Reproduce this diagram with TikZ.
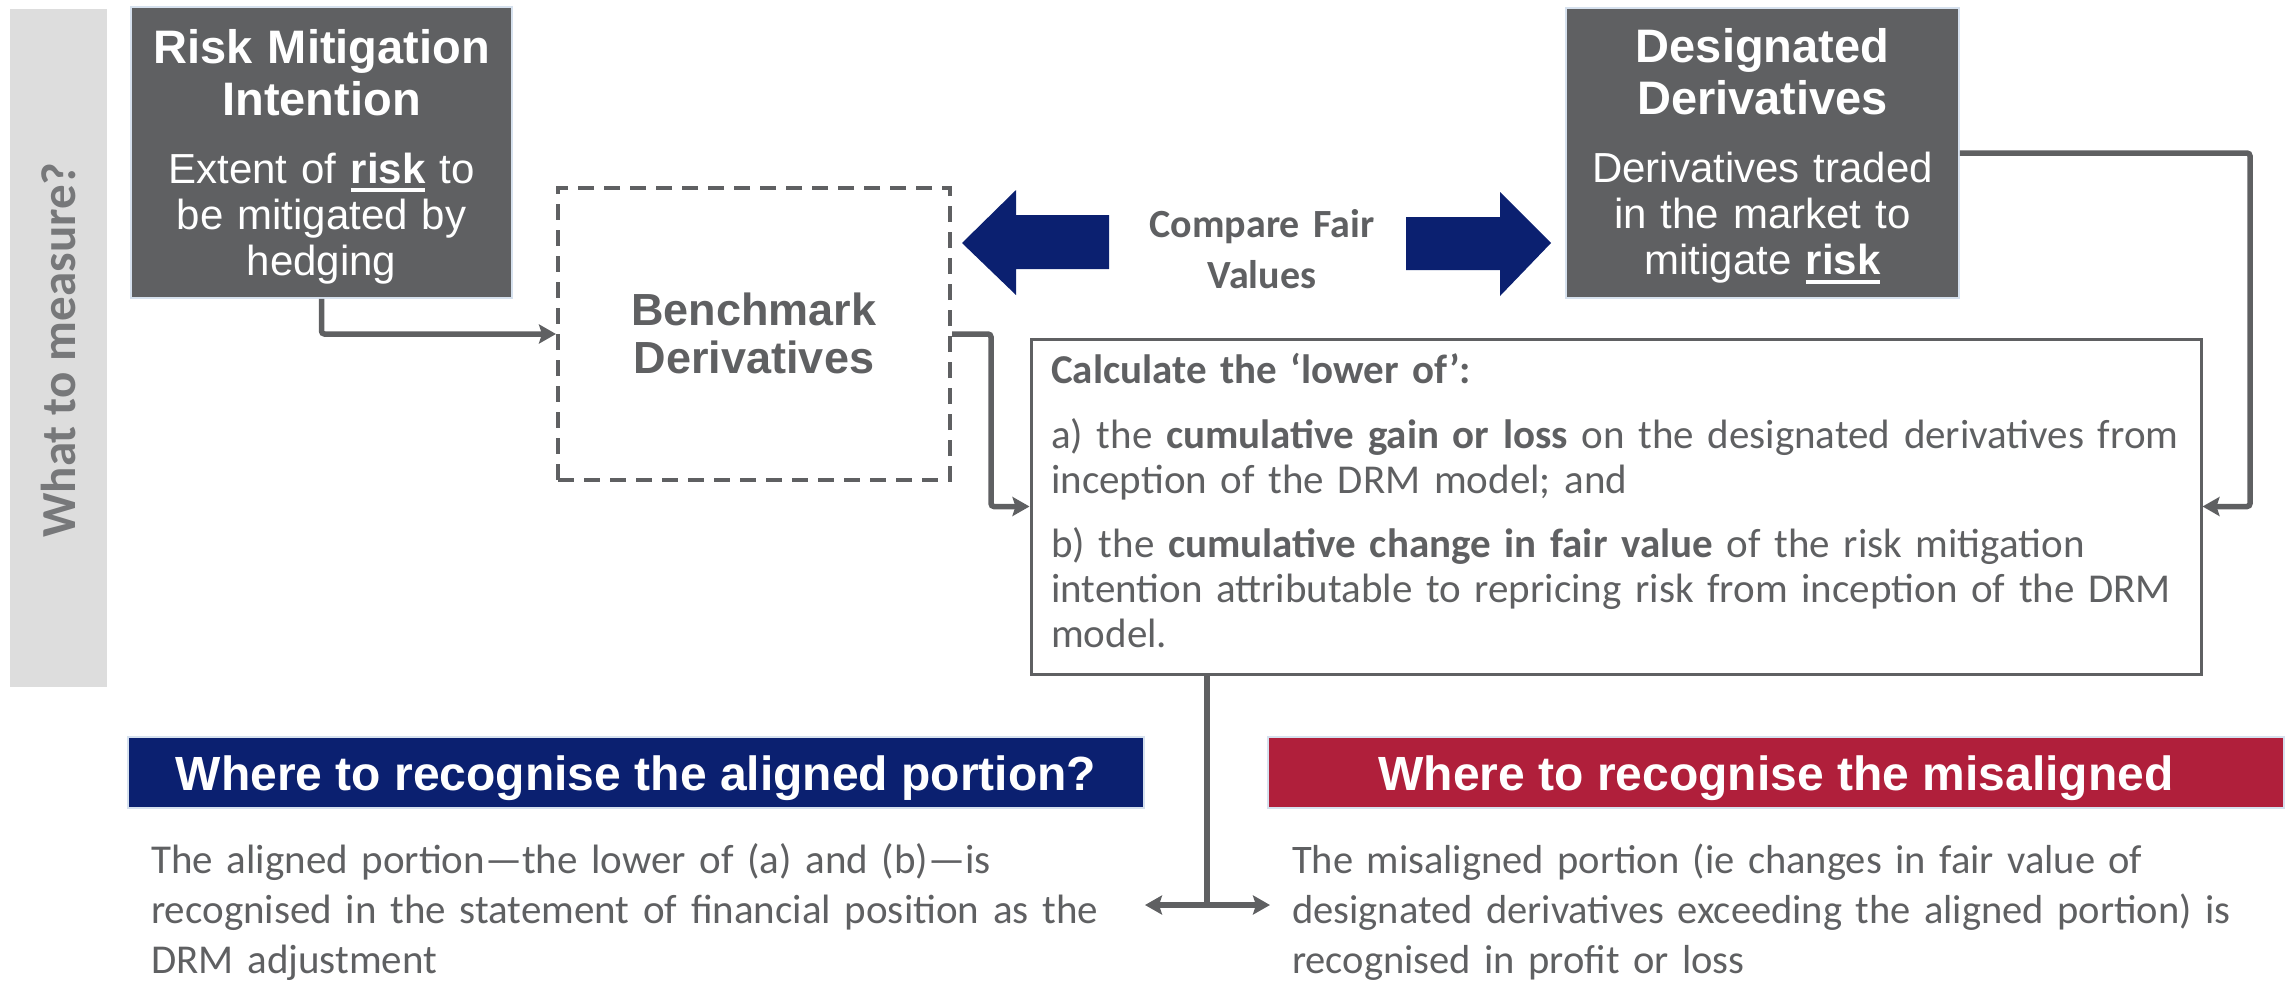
\documentclass[tikz,border=0pt]{standalone}
\usepackage{fontspec}
\setmainfont{Liberation Sans}
\newfontfamily\calfont{Carlito}
\usetikzlibrary{arrows.meta}
\definecolor{dgray}{RGB}{95,96,98}
\definecolor{bandgray}{RGB}{221,221,221}
\definecolor{navy}{RGB}{11,32,112}
\definecolor{crimson}{RGB}{176,31,59}
\definecolor{edgeblue}{RGB}{214,225,238}
\newcommand\ulw[2]{\setbox0\hbox{#2}\rlap{\rule[#1]{\wd0}{4pt}}\box0\relax}
\begin{document}
\begin{tikzpicture}[x=1pt,y=-1pt,
  darkbox/.style={fill=dgray, draw=edgeblue, line width=1.5pt, inner sep=0pt},
  hdrbox/.style={draw=edgeblue, line width=1.5pt, inner sep=0pt, minimum width=1016pt, minimum height=71pt},
  title/.style={inner sep=0pt, anchor=base, align=center, text=white, font=\fontsize{47}{52}\selectfont\bfseries},
  body/.style={inner sep=0pt, anchor=base, align=center, text=white, font=\fontsize{42}{46}\selectfont},
  calc/.style={inner sep=0pt, anchor=base west, align=left, text=dgray},
  hdrtext/.style={inner sep=0pt, anchor=base, text=white, font=\fontsize{48}{50}\selectfont\bfseries},
  conn/.style={draw=dgray, line width=5.5pt, rounded corners=3pt},
  tip/.style={-{Stealth[length=17pt,width=19pt,inset=3pt]}},
  bigarrow/.style={fill=navy, draw=none}
]
\useasboundingbox (0,0) rectangle (2292,980);

% side band
\fill[bandgray] (10,9) rectangle (107,687);
\node[inner sep=0pt, rotate=90, anchor=base, text=dgray!85!white, font=\calfont\fontsize{49}{52}\selectfont\bfseries] (measure) at (75,350) {What to measure?};

% risk mitigation intention
\node[darkbox, minimum width=381pt, minimum height=291pt] (rmi) at (321.5,152.5) {};
\node[title, text width=381pt] (rmiT) at (321.5,63) {Risk Mitigation\\Intention};
\node[body, text width=381pt] (rmiB) at (321.5,183) {Extent of \ulw{-9pt}{\bfseries risk} to\\be mitigated by\\hedging};

% designated derivatives
\node[darkbox, minimum width=393pt, minimum height=290pt] (des) at (1762.5,153) {};
\node[title, text width=393pt] (desT) at (1762.5,62) {Designated\\Derivatives};
\node[body, text width=393pt] (desB) at (1762.5,182) {Derivatives traded\\in the market to\\mitigate \ulw{-10pt}{\bfseries risk}};

% benchmark derivatives
\node[draw=dgray, line width=4pt, dash pattern=on 16pt off 10pt, minimum width=392pt, minimum height=292pt, inner sep=0pt] (bench) at (754,334) {};
\node[inner sep=0pt, anchor=base, align=center, text width=380pt, text=dgray, font=\fontsize{45}{48}\selectfont\bfseries] (benchT) at (754,325) {Benchmark\\Derivatives};

% compare fair values arrows
\fill[bigarrow] (962,243) -- (1016,190) -- (1016,215) -- (1109,215) -- (1109,269) -- (1016,269) -- (1016,295) -- cycle;
\fill[bigarrow] (1551,243) -- (1500,192) -- (1500,217) -- (1406,217) -- (1406,270) -- (1500,270) -- (1500,296) -- cycle;
\node[inner sep=0pt, anchor=base, align=center, text width=260pt, text=dgray, font=\calfont\fontsize{40}{51}\selectfont\bfseries] (cmp) at (1262,237) {Compare Fair\\Values};

% calculation box
\node[draw=dgray, line width=3pt, minimum width=1170pt, minimum height=335pt, inner sep=0pt] (calcbox) at (1616,506.5) {};
\node[calc, text width=1160pt, font=\calfont\fontsize{41}{45}\selectfont] (calcT) at (1051,383) {\textbf{Calculate the ‘lower of’:}\\[20pt]
a) the \textbf{cumulative gain or loss} on the designated derivatives from\\
inception of the DRM model; and\\[19pt]
b) the \textbf{cumulative change in fair value} of the risk mitigation\\
intention attributable to repricing risk from inception of the DRM\\
model.};

% connectors
\coordinate (bturn) at (991,334);
\coordinate (dturn) at (2250,153);
\coordinate (split) at (1207,905);
\coordinate (lefttip) at (1145,905);
\coordinate (righttip) at (1270,905);
\draw[conn, tip] (rmi.south) |- (bench.west);
\draw[conn, tip] (bench.east) -- (bturn) |- (calcbox.west);
\draw[conn, tip] (des.east) -- (dturn) |- (calcbox.east);
\draw[conn] (calcbox.south -| split) -- (split);
\draw[draw=dgray, line width=5.5pt, {Stealth[length=17pt,width=19pt,inset=3pt]}-{Stealth[length=17pt,width=19pt,inset=3pt]}] (lefttip) -- (righttip);

% headers
\node[hdrbox, fill=navy] (hdrA) at (636,772.5) {};
\node[hdrtext] (hdrAT) at (636,790) {Where to recognise the aligned portion?};
\node[hdrbox, fill=crimson] (hdrM) at (1776,772.5) {};
\node[hdrtext] (hdrMT) at (1776,790) {Where to recognise the misaligned};

% bottom texts
\node[calc, text width=1100pt, font=\calfont\fontsize{41}{50}\selectfont] (alignT) at (151,873) {The aligned portion—the lower of (a) and (b)—is\\
recognised in the statement of financial position as the\\
DRM adjustment};
\node[calc, text width=1000pt, font=\calfont\fontsize{40.5}{50}\selectfont] (misT) at (1292,873) {The misaligned portion (ie changes in fair value of\\
designated derivatives exceeding the aligned portion) is\\
recognised in profit or loss};
\end{tikzpicture}
\end{document}
